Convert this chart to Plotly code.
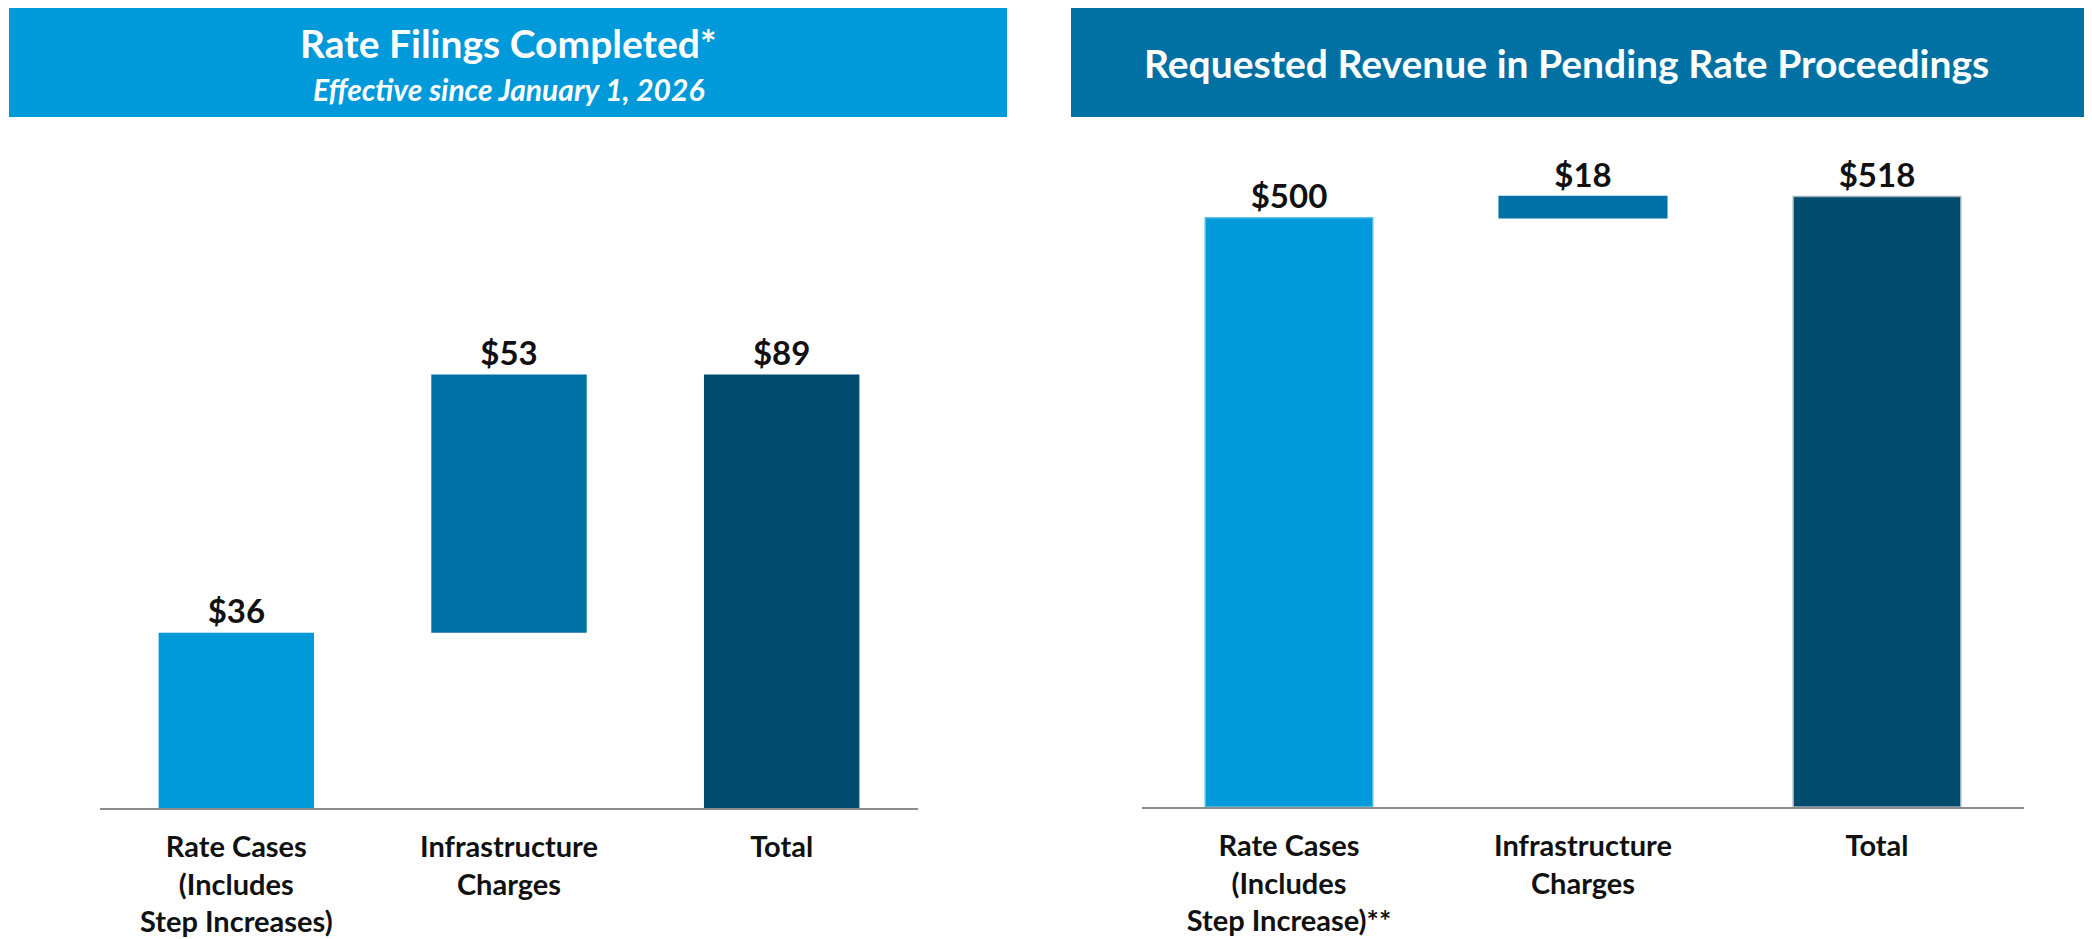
import plotly.graph_objects as go

# ---- data ----
left_categories = ["Rate Cases<br>(Includes<br>Step Increases)", "Infrastructure<br>Charges", "Total"]
left_values = [36, 53, 89]
left_is_total = [False, False, True]

right_categories = ["Rate Cases<br>(Includes<br>Step Increase)**", "Infrastructure<br>Charges", "Total"]
right_values = [500, 18, 518]
right_is_total = [False, False, True]

left_title = "Rate Filings Completed*"
left_subtitle = "Effective since January 1, 2026"
right_title = "Requested Revenue in Pending Rate Proceedings"

bar_colors = ["#009ADA", "#0071A4", "#014B6E"]
FONT = "Lato"
W, H = 2092, 939
OFF = 8  # page body margin


def bases(values, is_total):
    out, run = [], 0
    for v, t in zip(values, is_total):
        if t:
            out.append(0)
        else:
            out.append(run)
            run += v
    return out


def px(x):
    return (x - OFF) / W


def py(y):
    return (H - (y - OFF)) / H


fig = go.Figure()

fig.add_trace(go.Bar(
    x=left_categories, y=left_values, base=bases(left_values, left_is_total),
    marker=dict(color=bar_colors, line=dict(width=0)),
    texttemplate="<b>$%{y}</b>", textposition="outside",
    textfont=dict(family=FONT, size=33, color="#111111"),
    cliponaxis=False, xaxis="x", yaxis="y", showlegend=False, hoverinfo="skip",
))
fig.add_trace(go.Bar(
    x=right_categories, y=right_values, base=bases(right_values, right_is_total),
    marker=dict(color=bar_colors, line=dict(width=1.5, color=["#5BC0EA", "#0071A4", "#9FB3C0"])),
    texttemplate="<b>$%{y}</b>", textposition="outside",
    textfont=dict(family=FONT, size=33, color="#111111"),
    cliponaxis=False, xaxis="x2", yaxis="y2", showlegend=False, hoverinfo="skip",
))

axis_common = dict(showgrid=False, zeroline=False, showline=True, linecolor="#8C8C8C",
                   linewidth=2, ticks="", tickfont=dict(family=FONT, size=29, color="#111111"),
                   ticklabelstandoff=12, fixedrange=True)

fig.update_layout(
    width=W, height=H, margin=dict(l=0, r=0, t=0, b=0),
    paper_bgcolor="white", plot_bgcolor="rgba(0,0,0,0)",
    bargap=0.43,
    font=dict(family=FONT),
    xaxis=dict(domain=[px(100), px(918)], anchor="y", range=[-0.5, 2.5],
               tickvals=left_categories, ticktext=["<b>" + c + "</b>" for c in left_categories],
               **axis_common),
    yaxis=dict(domain=[py(808), py(321)], anchor="x", range=[0, 100], visible=False, fixedrange=True),
    xaxis2=dict(domain=[px(1142), px(2024)], anchor="y2", range=[-0.5, 2.5],
                tickvals=right_categories, ticktext=["<b>" + c + "</b>" for c in right_categories],
                **axis_common),
    yaxis2=dict(domain=[py(807), py(100)], anchor="x2", range=[0, 600], visible=False, fixedrange=True),
    shapes=[
        dict(type="rect", xref="paper", yref="paper", x0=px(9), x1=px(1007),
             y0=py(117), y1=py(5), fillcolor="#009ADA", line=dict(width=0), layer="below"),
        dict(type="rect", xref="paper", yref="paper", x0=px(1071), x1=px(2100),
             y0=py(117), y1=py(5), fillcolor="#0071A2", line=dict(width=0), layer="below"),
    ],
    annotations=[
        dict(text="<b>" + left_title + "</b>", xref="paper", yref="paper", x=px(508), y=py(43),
             showarrow=False, font=dict(family=FONT, size=39, color="white"), xanchor="center", yanchor="middle"),
        dict(text="<b><i>" + left_subtitle + "</i></b>", xref="paper", yref="paper", x=px(508), y=py(89),
             showarrow=False, font=dict(family=FONT, size=30, color="white"), xanchor="center", yanchor="middle"),
        dict(text="<b>" + right_title + "</b>", xref="paper", yref="paper", x=px(1566), y=py(63),
             showarrow=False, font=dict(family=FONT, size=39, color="white"), xanchor="center", yanchor="middle"),
    ],
)

fig.write_html("out.html")
